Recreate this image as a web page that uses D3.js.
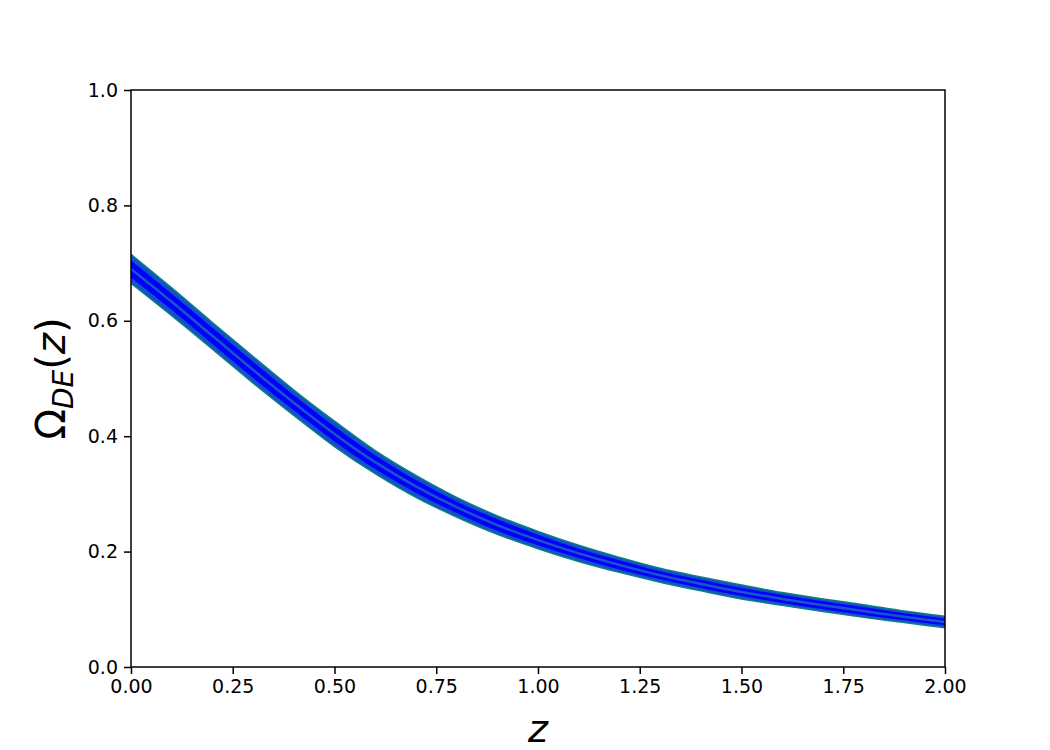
<!DOCTYPE html>
<html>
<head>
<meta charset="utf-8">
<script src="https://cdn.jsdelivr.net/npm/d3@7"></script>
<style>
  body { margin: 0; background: #fff; }
  text { font-family: "DejaVu Sans", sans-serif; }
</style>
</head>
<body>
<div id="chart"></div>
<script>
// redshift grid and values
const zVals = [0.0, 0.1, 0.2, 0.3, 0.4, 0.5, 0.6, 0.7, 0.8, 0.9, 1.0,
               1.1, 1.2, 1.3, 1.4, 1.5, 1.6, 1.7, 1.8, 1.9, 2.0];
const omegaMid = [0.690, 0.633, 0.574, 0.515, 0.458, 0.404, 0.355, 0.313, 0.277, 0.246, 0.220,
                  0.197, 0.177, 0.159, 0.144, 0.130, 0.118, 0.107, 0.097, 0.087, 0.078];
// outer band (2 sigma) and inner band (1 sigma)
const omegaHi2 = [0.715, 0.657, 0.597, 0.538, 0.480, 0.426, 0.375, 0.332, 0.294, 0.262, 0.235,
                  0.211, 0.190, 0.171, 0.156, 0.142, 0.129, 0.118, 0.108, 0.097, 0.088];
const omegaLo2 = [0.665, 0.609, 0.551, 0.492, 0.436, 0.382, 0.335, 0.294, 0.260, 0.230, 0.205,
                  0.183, 0.164, 0.147, 0.132, 0.118, 0.107, 0.096, 0.086, 0.077, 0.068];
const omegaHi1 = [0.705, 0.647, 0.588, 0.529, 0.471, 0.417, 0.367, 0.324, 0.287, 0.256, 0.229,
                  0.205, 0.185, 0.166, 0.151, 0.137, 0.125, 0.114, 0.104, 0.093, 0.084];
const omegaLo1 = [0.675, 0.619, 0.560, 0.501, 0.445, 0.391, 0.343, 0.302, 0.267, 0.236, 0.211,
                  0.189, 0.169, 0.152, 0.137, 0.123, 0.111, 0.100, 0.090, 0.081, 0.072];
const xTicks = [0, 0.25, 0.5, 0.75, 1.0, 1.25, 1.5, 1.75, 2.0];
const yTicks = [0, 0.2, 0.4, 0.6, 0.8, 1.0];

const W = 1050, H = 750;
const margin = { top: 90, right: 105, bottom: 83, left: 131 };
const width = W - margin.left - margin.right,
      height = H - margin.top - margin.bottom;

const svg = d3.select("#chart").append("svg")
    .attr("width", W)
    .attr("height", H);

const g = svg.append("g")
    .attr("transform", `translate(${margin.left},${margin.top})`);

const x = d3.scaleLinear().domain([0, 2]).range([0, width]);
const y = d3.scaleLinear().domain([0, 1]).range([height, 0]);

const rows = zVals.map((z, i) => ({
    z: z, mid: omegaMid[i],
    hi2: omegaHi2[i], lo2: omegaLo2[i],
    hi1: omegaHi1[i], lo1: omegaLo1[i]
}));

g.append("clipPath").attr("id", "clip")
    .append("rect").attr("width", width).attr("height", height);

const bands = g.append("g").attr("clip-path", "url(#clip)");

const curve = d3.curveCatmullRom;
const outer = d3.area().curve(curve)
    .x(d => x(d.z)).y0(d => y(d.lo2)).y1(d => y(d.hi2));
const inner = d3.area().curve(curve)
    .x(d => x(d.z)).y0(d => y(d.lo1)).y1(d => y(d.hi1));
const line = d3.line().curve(curve)
    .x(d => x(d.z)).y(d => y(d.mid));

bands.append("path").datum(rows)
    .attr("d", outer)
    .attr("fill", "#1450c8")
    .attr("stroke", "#0b7d86")
    .attr("stroke-width", 1.5);

bands.append("path").datum(rows)
    .attr("d", inner)
    .attr("fill", "#0000ff");

bands.append("path").datum(rows)
    .attr("d", line)
    .attr("fill", "none")
    .attr("stroke", "#1a55c8")
    .attr("stroke-width", 2.5);

// axes
const xAxis = g.append("g")
    .attr("transform", `translate(0,${height})`)
    .call(d3.axisBottom(x).tickValues(xTicks).tickFormat(d3.format(".2f"))
        .tickSize(7).tickPadding(6).tickSizeOuter(0));
const yAxis = g.append("g")
    .call(d3.axisLeft(y).tickValues(yTicks).tickFormat(d3.format(".1f"))
        .tickSize(7).tickPadding(6).tickSizeOuter(0));

[xAxis, yAxis].forEach(a => {
    a.select(".domain").remove();
    a.selectAll("line").attr("stroke", "#000").attr("stroke-width", 1.5);
    a.selectAll("text").attr("fill", "#000")
        .style("font-family", "DejaVu Sans").style("font-size", "19px");
});

// frame
g.append("rect")
    .attr("width", width).attr("height", height)
    .attr("fill", "none").attr("stroke", "#000").attr("stroke-width", 1.5);

// axis labels
g.append("text")
    .attr("x", width / 2).attr("y", height + 75)
    .attr("text-anchor", "middle")
    .style("font-size", "38px").style("font-style", "italic")
    .text("z");

const yl = g.append("text")
    .attr("transform", `translate(${-66},${height / 2}) rotate(-90)`)
    .attr("text-anchor", "middle")
    .style("font-size", "40px");
yl.append("tspan").text("Ω");
yl.append("tspan").attr("dy", 8).style("font-size", "28px").style("font-style", "italic").text("DE");
yl.append("tspan").attr("dy", -8).text("(");
yl.append("tspan").style("font-style", "italic").text("z");
yl.append("tspan").text(")");
</script>
</body>
</html>
